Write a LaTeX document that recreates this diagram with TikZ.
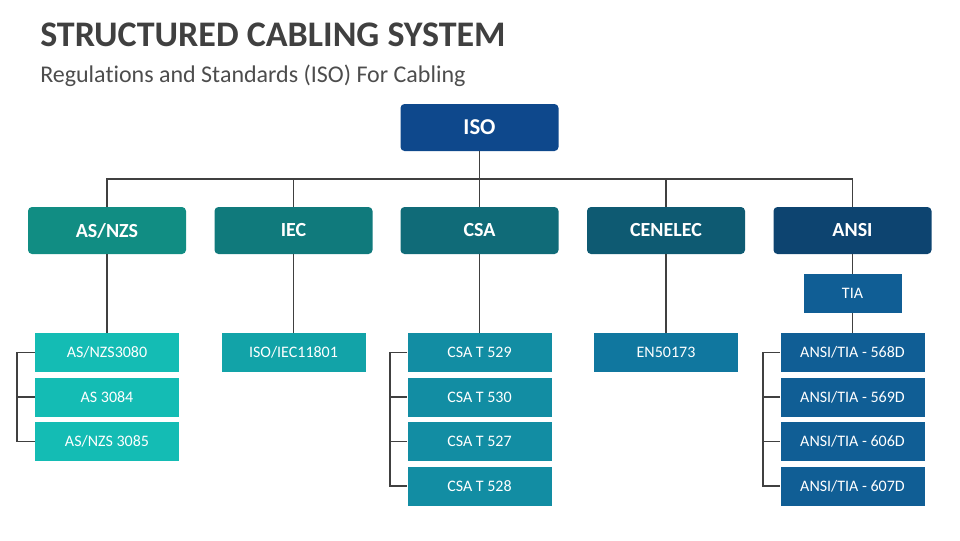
\documentclass[tikz,border=0pt]{standalone}
\usepackage{fontspec}
\setmainfont{Carlito}[Ligatures={NoCommon,NoContextual}]
\usepackage{xcolor}
\definecolor{titlegrey}{HTML}{404040}
\definecolor{subgrey}{HTML}{4D4D4D}
\definecolor{linegrey}{HTML}{404040}
\definecolor{isoblue}{HTML}{0E488C}
\definecolor{asnzsteal}{HTML}{118D83}
\definecolor{iecteal}{HTML}{107A7C}
\definecolor{csateal}{HTML}{106B78}
\definecolor{cenelecblue}{HTML}{0E5A72}
\definecolor{ansiblue}{HTML}{0D4470}
\definecolor{asnzslight}{HTML}{14BCB4}
\definecolor{ieclight}{HTML}{12A3A8}
\definecolor{csalight}{HTML}{128DA3}
\definecolor{cenleclight}{HTML}{10779F}
\definecolor{ansilight}{HTML}{105E95}

\begin{document}
\begin{tikzpicture}[x=0.75pt,y=-0.75pt,
  headbox/.style={rounded corners=3pt, text=white, font=\bfseries\fontsize{15}{18}\selectfont,
    minimum width=118.5pt, minimum height=35.25pt, inner sep=0pt},
  stdbox/.style={text=white, font=\fontsize{12}{14}\selectfont,
    minimum width=108pt, minimum height=29.25pt, inner sep=0pt},
  wire/.style={draw=linegrey, line width=1.2pt}]
\useasboundingbox (0,0) rectangle (960,540);

% title
\node[anchor=base west, inner sep=0pt, text=titlegrey, font=\bfseries\fontsize{27}{32}\selectfont] (title) at (40,46.5) {STRUCTURED CABLING SYSTEM};
\node[anchor=base west, inner sep=0pt, text=subgrey, font=\fontsize{18}{21}\selectfont] (subtitle) at (40,82) {Regulations and Standards (ISO) For Cabling};

% top
\node[headbox, fill=isoblue, font=\bfseries\fontsize{17}{20}\selectfont] (iso) at (479.5,127.5) {ISO};
\coordinate (bus) at (479.5,179);

% bodies
\node[headbox, fill=asnzsteal] (asnzs) at (107,230.5) {AS/NZS};
\node[headbox, fill=iecteal] (iec) at (293.5,230.5) {IEC};
\node[headbox, fill=csateal] (csa) at (479.5,230.5) {CSA};
\node[headbox, fill=cenelecblue] (cenelec) at (666,230.5) {CENELEC};
\node[headbox, fill=ansiblue] (ansi) at (852.5,230.5) {ANSI};

% standards
\node[stdbox, fill=asnzslight] (as1) at (107,352.5) {AS/NZS3080};
\node[stdbox, fill=asnzslight] (as2) at (107,397) {AS 3084};
\node[stdbox, fill=asnzslight] (as3) at (107,441.5) {AS/NZS 3085};

\node[stdbox, fill=ieclight] (iec1) at (293.5,352.5) {ISO/IEC11801};

\node[stdbox, fill=csalight] (csa1) at (479.5,352.5) {CSA T 529};
\node[stdbox, fill=csalight] (csa2) at (479.5,397) {CSA T 530};
\node[stdbox, fill=csalight] (csa3) at (479.5,441.5) {CSA T 527};
\node[stdbox, fill=csalight] (csa4) at (479.5,486) {CSA T 528};

\node[stdbox, fill=cenleclight] (cen1) at (666,352.5) {EN50173};

\node[stdbox, fill=ansilight, minimum width=73.5pt] (tia) at (852.5,293.5) {TIA};
\node[stdbox, fill=ansilight] (ansi1) at (852.5,352.5) {ANSI/TIA - 568D};
\node[stdbox, fill=ansilight] (ansi2) at (852.5,397) {ANSI/TIA - 569D};
\node[stdbox, fill=ansilight] (ansi3) at (852.5,441.5) {ANSI/TIA - 606D};
\node[stdbox, fill=ansilight] (ansi4) at (852.5,486) {ANSI/TIA - 607D};

% tree
\draw[wire] (iso.south) -- (bus);
\draw[wire] (asnzs.north) |- (bus) -| (ansi.north);
\draw[wire] (iec.north) -- (iec.north |- bus);
\draw[wire] (csa.north) -- (bus);
\draw[wire] (cenelec.north) -- (cenelec.north |- bus);

\draw[wire] (asnzs.south) -- (as1.north);
\draw[wire] (iec.south) -- (iec1.north);
\draw[wire] (csa.south) -- (csa1.north);
\draw[wire] (cenelec.south) -- (cen1.north);
\draw[wire] (ansi.south) -- (tia.north);
\draw[wire] (tia.south) -- (ansi1.north);

% brackets
\draw[wire] (as1.west) -- ++(-18,0) |- (as3.west);
\draw[wire] (as2.west) -- ++(-18,0);
\draw[wire] (csa1.west) -- ++(-17,0) |- (csa4.west);
\draw[wire] (csa2.west) -- ++(-17,0);
\draw[wire] (csa3.west) -- ++(-17,0);
\draw[wire] (ansi1.west) -- ++(-17,0) |- (ansi4.west);
\draw[wire] (ansi2.west) -- ++(-17,0);
\draw[wire] (ansi3.west) -- ++(-17,0);

\end{tikzpicture}
\end{document}
